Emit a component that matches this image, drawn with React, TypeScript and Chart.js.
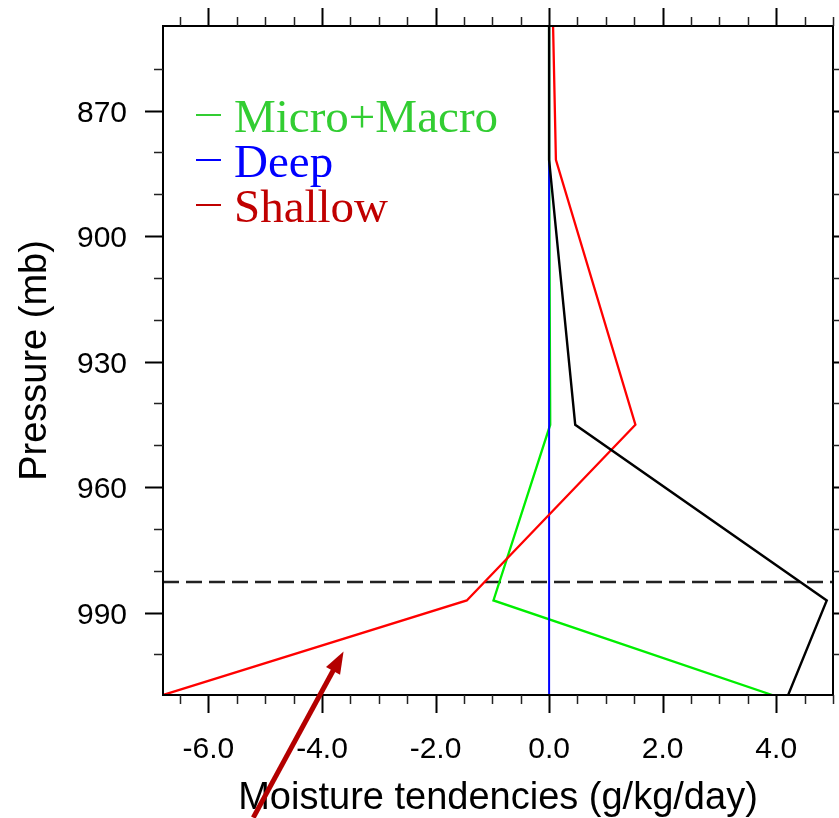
import React, { useEffect, useRef } from "react";
import { Chart, registerables } from "chart.js";

Chart.register(...registerables);

// Model levels (mb) and moisture tendencies (g/kg/day) at each level
const pressureLevels = [849.8, 881.8, 945.1, 987.1, 1009.7];
const microMacro = [0.0, 0.0, 0.02, -0.98, 3.93];
const deep = [0.0, 0.0, 0.0, 0.0, 0.0];
const shallow = [0.07, 0.12, 1.52, -1.45, -6.8];
const total = [0.0, 0.0, 0.46, 4.89, 4.21];

// Boundary-layer top (dashed line)
const boundaryLayerTop = 982.7;

// Axis extents
const xRange = [-6.8, 5.0];
const yRange = [849.8, 1009.7];

// Tick marks
const xMajorTicks = [-6, -4, -2, 0, 2, 4];
const xMajorLabels = ["-6.0", "-4.0", "-2.0", "0.0", "2.0", "4.0"];
const xMinorTicks = [-6.5, -5.5, -5, -4.5, -3.5, -3, -2.5, -1.5, -1, -0.5, 0.5, 1, 1.5, 2.5, 3, 3.5, 4.5, 5];
const yMajorTicks = [870, 900, 930, 960, 990];
const yMajorLabels = ["870", "900", "930", "960", "990"];
const yMinorTicks = [860, 880, 890, 910, 920, 940, 950, 970, 980, 1000];

// Legend entries
const legendNames = ["Micro+Macro", "Deep", "Shallow"];
const legendColors = ["#32cd32", "#0000ff", "#c00000"];

// Annotation arrow (data coordinates: tail then tip)
const arrowTail = { x: -5.21, y: 1039 };
const arrowTip = { x: -3.62, y: 999.3 };

const toPoints = (vals: number[]) => pressureLevels.map((p, i) => ({ x: vals[i], y: p }));

const framePlugin = {
  id: "frame",
  afterDatasetsDraw(chart: any) {
    const { ctx, chartArea: a, scales } = chart;
    const xs = scales.x;
    const ys = scales.y;
    ctx.save();

    // plot border
    ctx.strokeStyle = "#000";
    ctx.lineWidth = 2;
    ctx.strokeRect(a.left, a.top, a.right - a.left, a.bottom - a.top);

    // tick marks on all four sides, pointing outward
    const drawX = (vals: number[], len: number, w: number) => {
      ctx.lineWidth = w;
      ctx.beginPath();
      vals.forEach((v) => {
        const px = Math.round(xs.getPixelForValue(v)) + 0.5;
        ctx.moveTo(px, a.bottom);
        ctx.lineTo(px, a.bottom + len);
        ctx.moveTo(px, a.top);
        ctx.lineTo(px, a.top - len);
      });
      ctx.stroke();
    };
    const drawY = (vals: number[], len: number, w: number) => {
      ctx.lineWidth = w;
      ctx.beginPath();
      vals.forEach((v) => {
        const py = Math.round(ys.getPixelForValue(v)) + 0.5;
        ctx.moveTo(a.left, py);
        ctx.lineTo(a.left - len, py);
        ctx.moveTo(a.right, py);
        ctx.lineTo(a.right + len, py);
      });
      ctx.stroke();
    };
    ctx.strokeStyle = "#222";
    drawX(xMinorTicks, 9, 1.5);
    drawY(yMinorTicks, 9, 1.5);
    ctx.strokeStyle = "#000";
    drawX(xMajorTicks, 18, 2);
    drawY(yMajorTicks, 18, 2);

    // tick labels
    ctx.fillStyle = "#000";
    ctx.font = '30px "Liberation Sans", Arial, sans-serif';
    ctx.textAlign = "center";
    ctx.textBaseline = "alphabetic";
    xMajorTicks.forEach((v, i) => {
      ctx.fillText(xMajorLabels[i], xs.getPixelForValue(v), 758);
    });
    ctx.textAlign = "right";
    yMajorTicks.forEach((v, i) => {
      ctx.fillText(yMajorLabels[i], 127, ys.getPixelForValue(v) + 11);
    });

    // axis titles
    ctx.font = '38px "Liberation Sans", Arial, sans-serif';
    ctx.textAlign = "center";
    ctx.fillText("Moisture tendencies (g/kg/day)", (a.left + a.right) / 2, 809);
    ctx.save();
    ctx.translate(46, (a.top + a.bottom) / 2);
    ctx.rotate(-Math.PI / 2);
    ctx.fillText("Pressure (mb)", 0, 0);
    ctx.restore();

    // legend
    ctx.font = '47px "Liberation Serif", "Times New Roman", serif';
    ctx.textAlign = "left";
    legendNames.forEach((name, i) => {
      const base = 132 + i * 45;
      ctx.strokeStyle = legendColors[i];
      ctx.lineWidth = 2;
      ctx.beginPath();
      ctx.moveTo(196, base - 17);
      ctx.lineTo(221, base - 17);
      ctx.stroke();
      ctx.fillStyle = legendColors[i];
      ctx.fillText(name, 234, base);
    });

    ctx.restore();
  },
  afterDraw(chart: any) {
    const { ctx, scales } = chart;
    const tx = scales.x.getPixelForValue(arrowTail.x);
    const ty = scales.y.getPixelForValue(arrowTail.y);
    const hx = scales.x.getPixelForValue(arrowTip.x);
    const hy = scales.y.getPixelForValue(arrowTip.y);
    const dx = hx - tx;
    const dy = hy - ty;
    const len = Math.hypot(dx, dy);
    const ux = dx / len;
    const uy = dy / len;
    const headLen = 22;
    const headHalf = 8;
    const bx = hx - ux * headLen;
    const by = hy - uy * headLen;
    ctx.save();
    ctx.strokeStyle = "#b40000";
    ctx.fillStyle = "#b40000";
    ctx.lineWidth = 5;
    ctx.beginPath();
    ctx.moveTo(tx, ty);
    ctx.lineTo(bx + ux * 2, by + uy * 2);
    ctx.stroke();
    ctx.beginPath();
    ctx.moveTo(hx, hy);
    ctx.lineTo(bx - uy * headHalf, by + ux * headHalf);
    ctx.lineTo(bx + uy * headHalf, by - ux * headHalf);
    ctx.closePath();
    ctx.fill();
    ctx.restore();
  },
};

export default function App() {
  const canvasRef = useRef<HTMLCanvasElement | null>(null);

  useEffect(() => {
    const canvas = canvasRef.current;
    if (!canvas) return;
    const line = (data: any[], color: string, width: number, order: number, dash: number[] = []) => ({
      data,
      showLine: true,
      borderColor: color,
      backgroundColor: color,
      borderWidth: width,
      borderDash: dash,
      pointRadius: 0,
      tension: 0,
      fill: false,
      order,
    });
    const chart = new Chart(canvas, {
      type: "scatter",
      data: {
        datasets: [
          line(
            [
              { x: xRange[0], y: boundaryLayerTop },
              { x: xRange[1], y: boundaryLayerTop },
            ],
            "#222222",
            2.5,
            4,
            [16, 7]
          ),
          line(toPoints(microMacro), "#00ee00", 2.3, 3),
          line(toPoints(deep), "#0000ff", 2, 2),
          line(toPoints(shallow), "#ff0000", 2.3, 1),
          line(toPoints(total), "#000000", 2.4, 0),
        ],
      },
      options: {
        responsive: false,
        maintainAspectRatio: false,
        devicePixelRatio: 1,
        animation: false,
        layout: { padding: { left: 163, right: 6, top: 26, bottom: 123 } },
        plugins: { legend: { display: false }, tooltip: { enabled: false } },
        events: [],
        scales: {
          x: { type: "linear", min: xRange[0], max: xRange[1], display: false },
          y: { type: "linear", min: yRange[0], max: yRange[1], reverse: true, display: false },
        },
      },
      plugins: [framePlugin],
    });
    return () => chart.destroy();
  }, []);

  return (
    <div style={{ position: "fixed", left: 0, top: 0, width: 839, height: 818, background: "#fff" }}>
      <canvas ref={canvasRef} width={839} height={818} style={{ display: "block" }} />
    </div>
  );
}
